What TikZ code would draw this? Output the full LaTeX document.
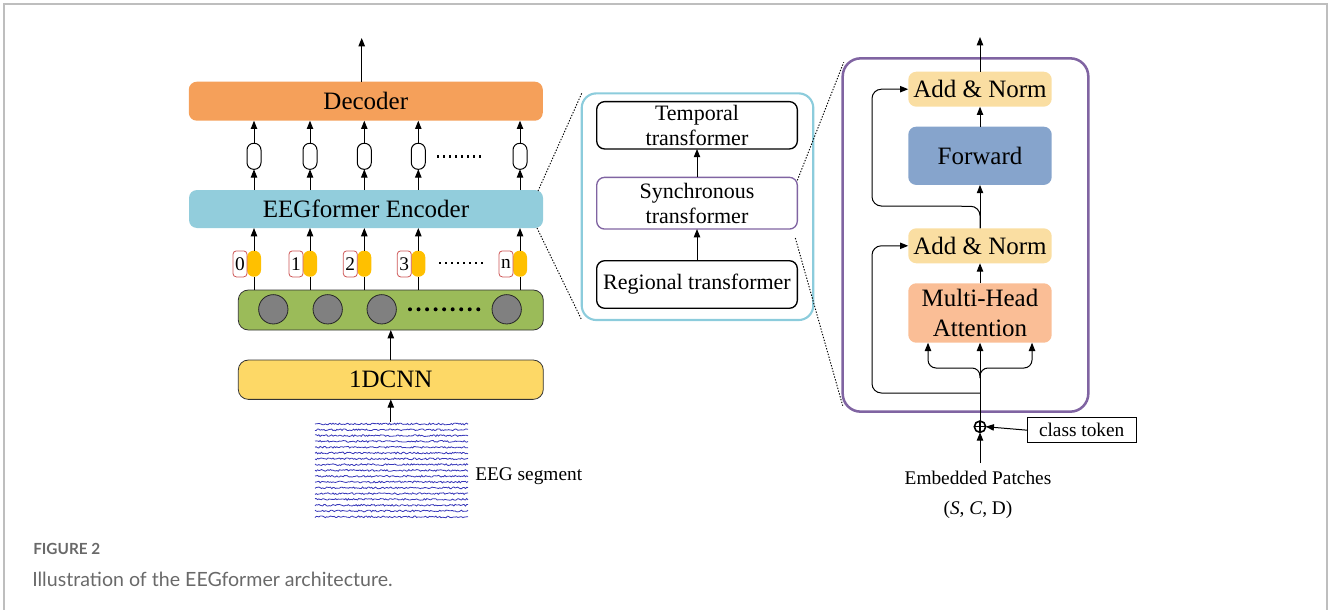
\documentclass[tikz,border=0pt]{standalone}
\usepackage{fontspec}
\setmainfont{Liberation Serif}
\newfontfamily\capfont{Lato}
\usetikzlibrary{arrows.meta,calc}
\definecolor{decc}{RGB}{245,160,90}
\definecolor{encc}{RGB}{146,205,220}
\definecolor{greenc}{RGB}{155,187,89}
\definecolor{cnnc}{RGB}{253,216,102}
\definecolor{yelc}{RGB}{255,192,0}
\definecolor{redc}{RGB}{205,85,85}
\definecolor{anc}{RGB}{250,222,162}
\definecolor{fwc}{RGB}{134,164,204}
\definecolor{mhac}{RGB}{250,190,150}
\definecolor{purp}{RGB}{128,100,162}
\definecolor{lblue}{RGB}{140,204,220}
\definecolor{eegc}{RGB}{55,55,185}
\definecolor{framec}{RGB}{190,190,190}
\definecolor{capgray}{RGB}{105,105,105}
\definecolor{circc}{RGB}{128,128,128}
\begin{document}
\begin{tikzpicture}[x=0.75pt,y=-0.75pt,
  arr/.style={-{Triangle[width=4.8pt,length=6.2pt]}, line width=0.75pt},
  big/.style={font=\fontsize{18.75pt}{22.5pt}\selectfont},
  mid/.style={font=\fontsize{16.5pt}{18.75pt}\selectfont},
  small/.style={font=\fontsize{14.5pt}{17pt}\selectfont},
  wide/.style={inner sep=0pt, outer sep=0pt, minimum width=265.5pt, rounded corners=6pt, big},
  lowbox/.style={inner sep=0pt, outer sep=0pt, minimum width=228.75pt, rounded corners=7.5pt, draw=black!80, line width=0.6pt},
  capsule/.style={draw, line width=0.75pt, fill=white, inner sep=0pt, outer sep=0pt, minimum width=10.5pt, minimum height=19.5pt, rounded corners=5pt},
  tok/.style={fill=yelc, inner sep=0pt, outer sep=0pt, minimum width=10.5pt, minimum height=19.5pt, rounded corners=5pt},
  lab/.style={draw=redc, line width=0.6pt, fill=white, inner sep=0pt, outer sep=0pt, minimum width=10.5pt, minimum height=19.5pt, rounded corners=2.5pt, small},
  gcirc/.style={circle, draw=black!85, line width=0.6pt, fill=circc, minimum size=22pt, inner sep=0pt},
  tbox/.style={draw, line width=1pt, rounded corners=6pt, inner sep=0pt, outer sep=0pt, minimum width=150.5pt, align=center, mid},
  rbox/.style={inner sep=0pt, outer sep=0pt, minimum width=107.6pt, rounded corners=6pt, align=center, big},
  link/.style={line width=0.7pt, dash pattern=on 1pt off 1.2pt},
]
\useasboundingbox (0,0) rectangle (1328,610);
% frame
\draw[framec, line width=1.5pt] (4,612) -- (4,4) -- (1327,4) -- (1327,612);

% ---------- left column ----------
\node[wide, fill=decc, minimum height=29.25pt] (dec) at (365.8,101.2) {Decoder};
\node[wide, fill=encc, minimum height=28.5pt] (enc) at (366,209) {EEGformer Encoder};
\node[lowbox, fill=greenc, minimum height=30pt] (grn) at (390.8,310) {};
\node[lowbox, fill=cnnc, minimum height=29.5pt, big] (cnn) at (390.8,379.7) {1DCNN};

\coordinate (out1) at (361.7,38);
\draw[arr] (out1 |- dec.north) -- (out1);

\foreach \i/\xx/\d in {0/254/0, 1/310/1, 2/364.3/2, 3/418.3/3, 4/520/n}{
  \node[capsule] (cap\i) at (\xx,156.3) {};
  \draw[arr] (cap\i.south |- enc.north) -- (cap\i.south);
  \draw[arr] (cap\i.north) -- (cap\i.north |- dec.south);
  \node[tok] (tok\i) at (\xx,263.7) {};
  \node[lab] (lab\i) at (\xx-14,263.9) {\d};
  \draw[line width=0.75pt] (tok\i.south |- grn.north) -- (tok\i.south);
  \draw[arr] (tok\i.north) -- (tok\i.north |- enc.south);
}
\draw[line width=1.6pt, dash pattern=on 1.6pt off 2.9pt] (437,156.5) -- (484,156.5);
\draw[line width=1.6pt, dash pattern=on 1.6pt off 2.9pt] (439,262.7) -- (486,262.7);

\foreach \i/\xx in {0/273.3, 1/327.7, 2/381.7, 3/506.7}{
  \node[gcirc] (gc\i) at (\xx,309.3) {};
}
\draw[line width=3pt, line cap=round, dash pattern=on 0pt off 6.4pt] (410,309.3) -- (480,309.3);

\draw[arr] (cnn.north) -- (grn.south);

% EEG segment
\node[inner sep=0pt, outer sep=0pt, minimum width=114.5pt, minimum height=72.5pt] (eeg) at (391.3,470) {};
\pgfmathsetseed{11}
\foreach \k in {0,...,16}{
  \draw[eegc, line width=0.6pt] plot[domain=315:468, samples=120] (\x, {424+\k*5.8+0.9*rand});
}
\draw[arr] (cnn.south |- eeg.north) -- (cnn.south);
\node[small, anchor=west, inner sep=0pt] (eeglab) at (475,476.5) {EEG segment};

% ---------- middle block ----------
\node[draw=lblue, line width=1.6pt, rounded corners=11pt, minimum width=173.7pt, minimum height=170pt, inner sep=0pt, outer sep=0pt] (midbox) at (697.5,206.7) {};
\node[tbox, minimum height=35.5pt] (temp) at (697,125.3) {Temporal\\transformer};
\node[tbox, draw=purp, minimum height=38.8pt] (sync) at (697,203.2) {Synchronous\\transformer};
\node[tbox, minimum height=35.7pt] (reg) at (697,284.5) {Regional transformer};
\draw[arr] (sync) -- (temp);
\draw[arr] (reg) -- (sync);

\draw[link] ($(enc.north east)+(-5,1)$) -- (midbox.north west);
\draw[link] ($(enc.south east)+(-6,0)$) -- (midbox.south west);

% ---------- right block ----------
\node[draw=purp, line width=1.9pt, rounded corners=13.5pt, minimum width=184.2pt, minimum height=265pt, inner sep=0pt, outer sep=0pt] (rightbox) at (965.5,235) {};
\node[rbox, fill=anc, minimum height=26.25pt] (an1) at (980,89.2) {Add \& Norm};
\node[rbox, fill=fwc, minimum height=43.7pt] (fw) at (980,155.8) {Forward};
\node[rbox, fill=anc, minimum height=26.25pt] (an2) at (980,245.8) {Add \& Norm};
\node[rbox, fill=mhac, minimum height=44.6pt] (mha) at (980,313) {Multi-Head\\Attention};

\draw[link] ($(sync.north east)+(0,3)$) -- ($(rightbox.north west)+(1,4)$);
\draw[link] ($(sync.south east)+(-2,9)$) -- ($(rightbox.south west)+(0,-6)$);

\coordinate (out2) at (980,37);
\draw[arr] (an1.north) -- (out2);
\draw[arr] (fw) -- (an1);
\draw[arr] (an2) -- (fw);
\draw[arr] (mha) -- (an2);

\coordinate (rl1) at (872,206);
\draw[arr, rounded corners=7pt] (an2.north) -- ++(0,-22) -- (rl1) |- (an1.west);

\node[circle, draw, line width=1.2pt, minimum size=8.5pt, inner sep=0pt, outer sep=0pt,
  path picture={\draw[line width=1.1pt] (path picture bounding box.north) -- (path picture bounding box.south)
  (path picture bounding box.west) -- (path picture bounding box.east);}] (plus) at (980,426.7) {};
\node[draw, line width=0.7pt, inner sep=0pt, outer sep=0pt, minimum width=81.5pt, minimum height=18.75pt, small] (cls) at (1081.7,430.2) {class token};
\draw[arr] (cls.west) -- (plus.east);

\draw[arr] (plus.north) -- (mha.south);
\coordinate (rl2) at (872,393);
\draw[arr, rounded corners=7pt] (980,393) -- (rl2) |- (an2.west);
\draw[arr, rounded corners=6pt] (980,378) |- (928,368) -- (mha.south -| 928,0);
\draw[arr, rounded corners=6pt] (980,378) |- (1032,368) -- (mha.south -| 1032,0);

\node[small, inner sep=0pt] (emb) at (978,478.3) {Embedded Patches};
\node[small, inner sep=0pt] (shape) at (978,510) {(\textit{S}, \textit{C}, D)};
\draw[arr] ($(emb.north)+(2,-8)$) -- (plus.south);

% caption
\node[anchor=west, inner sep=0pt, text=capgray, font=\capfont\bfseries\fontsize{11.5pt}{13pt}\selectfont] (fig) at (33,549) {FIGURE 2};
\node[anchor=west, inner sep=0pt, text=capgray, font=\capfont\fontsize{14.7pt}{17pt}\selectfont] (capt) at (32,579) {Illustration of the EEGformer architecture.};
\end{tikzpicture}
\end{document}
